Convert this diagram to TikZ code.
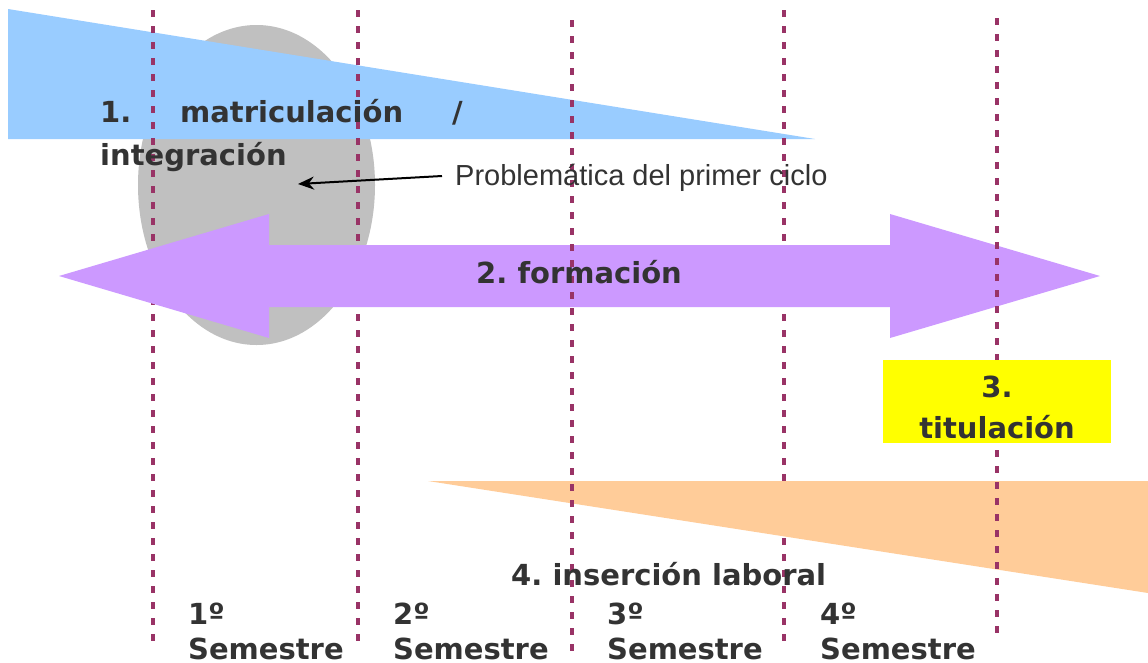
\documentclass[tikz,border=0pt]{standalone}
\usepackage{fontspec}
\setmainfont{DejaVu Sans}
\newfontfamily\arialfont{Liberation Sans}
\usetikzlibrary{arrows.meta}
\frenchspacing
\definecolor{txt}{HTML}{333333}
\definecolor{blueT}{HTML}{99CCFF}
\definecolor{grayE}{HTML}{C0C0C0}
\definecolor{purpleA}{HTML}{CC99FF}
\definecolor{yellowB}{HTML}{FFFF00}
\definecolor{orangeT}{HTML}{FFCC99}
\definecolor{dotc}{HTML}{993366}
\tikzset{
  divider/.style={draw=dotc, line width=4.5pt, dash pattern=on 7pt off 9pt},
  lbl/.style={inner sep=0pt, anchor=base west, text=txt, font=\fontsize{29}{35}\selectfont\bfseries},
  note/.style={inner sep=0pt, anchor=base west, text=txt, font=\fontsize{29}{35}\selectfont\arialfont},
}
\begin{document}
\begin{tikzpicture}[x=1pt,y=-1pt]
\useasboundingbox[fill=white] (0,0) rectangle (1148,662);
% gray ellipse
\fill[grayE] (256.5,185) ellipse [x radius=118.5, y radius=160];
% blue triangle
\fill[blueT] (8,9) -- (8,139) -- (815,139) -- cycle;
% dividers under arrow
\draw[divider] (153,10) -- (153,648);
\draw[divider] (358,10) -- (358,650);
\draw[divider] (784,10) -- (784,645);
% purple double arrow
\fill[purpleA] (59,276) -- (269,214) -- (269,245) -- (890,245) -- (890,214) -- (1100,276)
  -- (890,338) -- (890,307) -- (269,307) -- (269,338) -- cycle;
% orange triangle
\fill[orangeT] (428,481) -- (1148,481) -- (1148,593) -- cycle;
% dividers over arrow
\draw[divider] (572,20) -- (572,660);
\draw[divider] (997,18) -- (997,640);
% yellow box
\fill[yellowB] (883,360) rectangle (1111,443);
% texts
\node[lbl] (n1) at (100,122) {1.};
\node[lbl] (m1) at (180,122) {matriculación};
\node[lbl] (s1) at (452,122) {/};
\node[lbl] (i1) at (100,165) {integración};
\node[lbl] (f2) at (476,283) {2. formación};
\node[lbl, anchor=base] (t3a) at (997,397) {3.};
\node[lbl, anchor=base] (t3b) at (997,438) {titulación};
\node[lbl] (l4) at (511,585) {4. inserción laboral};
\node[lbl] (a1) at (188,624) {1º};
\node[lbl] (b1) at (188,659) {Semestre};
\node[lbl] (a2) at (393,624) {2º};
\node[lbl] (b2) at (393,659) {Semestre};
\node[lbl] (a3) at (607,624) {3º};
\node[lbl] (b3) at (607,659) {Semestre};
\node[lbl] (a4) at (820,624) {4º};
\node[lbl] (b4) at (820,659) {Semestre};
\node[note] (pc) at (455,185) {Problemática del primer ciclo};
\coordinate (pfrom) at (442,176);
\coordinate (pto) at (298,184);
\draw[line width=2pt, -{Stealth[length=16pt, width=13pt]}] (pfrom) -- (pto);
\end{tikzpicture}
\end{document}
